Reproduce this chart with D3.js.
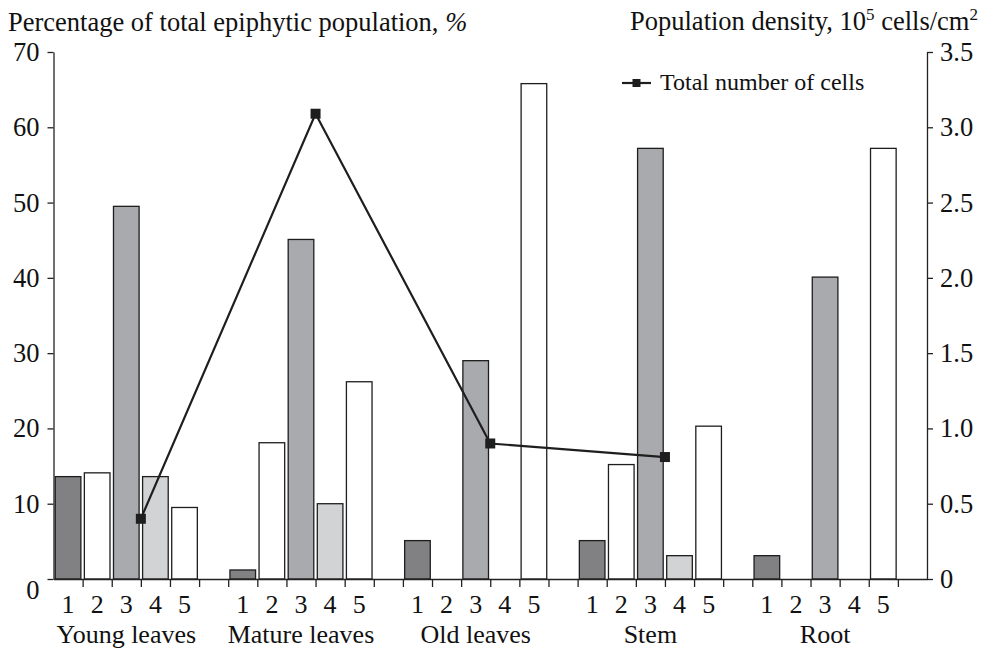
<!DOCTYPE html>
<html>
<head>
<meta charset="utf-8">
<script src="https://cdn.jsdelivr.net/npm/d3@7"></script>
<style>
  body { margin: 0; background: #fff; }
  svg { display: block; font-family: "Liberation Serif", "Times New Roman", serif; }
  .axis path, .axis line { stroke: #222; stroke-width: 1.3; }
  .axis text { font-family: "Liberation Serif", "Times New Roman", serif; font-size: 26.5px; fill: #111; }
  .lbl { font-size: 26.5px; fill: #111; }
  .xlbl { font-size: 26px; fill: #111; }
</style>
</head>
<body>
<div id="chart"></div>
<script>
const groups = ["Young leaves", "Mature leaves", "Old leaves", "Stem", "Root"];
const barLabels = ["1", "2", "3", "4", "5"];
// percentage of total epiphytic population, one array per bar number
const series1 = [13.6, 1.2, 5.1, 5.1, 3.1];
const series2 = [14.1, 18.1, 0, 15.2, 0];
const series3 = [49.5, 45.1, 29.0, 57.2, 40.1];
const series4 = [13.6, 10.0, 0, 3.1, 0];
const series5 = [9.5, 26.2, 65.8, 20.3, 57.2];
// population density, 10^5 cells/cm2 (no value for root)
const totalCells = [0.40, 3.09, 0.90, 0.81, null];
const leftTicks = [0, 10, 20, 30, 40, 50, 60, 70];
const rightTicks = [0, 0.5, 1.0, 1.5, 2.0, 2.5, 3.0, 3.5];

const allSeries = [series1, series2, series3, series4, series5];
const fills = ["#818184", "#ffffff", "#a9aaad", "#d2d3d5", "#ffffff"];

const width = 981;
const height = 649;
const x0 = 53.5, x1 = 927;
const yTop = 52, yBottom = 579;

const svg = d3.select("#chart")
  .append("svg")
  .attr("width", width)
  .attr("height", height)
  .style("background-color", "#fff");

// 6 slots per group: 5 bars + an empty gap slot
const slots = groups.flatMap((g) => [...barLabels.map((b) => g + "|" + b), g + "|gap"]);

const xBand = d3.scaleBand()
  .domain(slots)
  .range([x0, x1])
  .paddingInner(0.12)
  .paddingOuter(0.06);

const xSlot = d3.scaleLinear()
  .domain([0, slots.length])
  .range([x0, x1]);

const yLeft = d3.scaleLinear().domain([0, 70]).range([yBottom, yTop]);
const yRight = d3.scaleLinear().domain([0, 3.5]).range([yBottom, yTop]);

const barData = [];
groups.forEach((g, gi) => {
  allSeries.forEach((s, si) => {
    if (s[gi] > 0) barData.push({ key: g + "|" + barLabels[si], value: s[gi], fill: fills[si] });
  });
});

svg.append("g")
  .selectAll("rect")
  .data(barData)
  .enter()
  .append("rect")
  .attr("x", (d) => xBand(d.key))
  .attr("y", (d) => yLeft(d.value))
  .attr("width", xBand.bandwidth())
  .attr("height", (d) => yBottom - yLeft(d.value))
  .attr("fill", (d) => d.fill)
  .attr("stroke", "#1e1e1e")
  .attr("stroke-width", 1.3);

// x axis: baseline with ticks at slot boundaries
svg.append("g")
  .attr("class", "axis")
  .attr("transform", `translate(0, ${yBottom})`)
  .call(d3.axisBottom(xSlot)
    .tickValues(d3.range(1, slots.length))
    .tickSize(8)
    .tickSizeOuter(0)
    .tickFormat(""));

// bar number labels
svg.append("g")
  .selectAll("text")
  .data(slots.filter((s) => !s.endsWith("|gap")))
  .enter()
  .append("text")
  .attr("class", "xlbl")
  .attr("x", (d) => xBand(d) + xBand.bandwidth() / 2)
  .attr("y", 613)
  .attr("text-anchor", "middle")
  .text((d) => d.split("|")[1]);

// group labels
svg.append("g")
  .selectAll("text")
  .data(groups)
  .enter()
  .append("text")
  .attr("class", "xlbl")
  .attr("x", (d, i) => xSlot(i * 6 + 2.5))
  .attr("y", 643)
  .attr("text-anchor", "middle")
  .text((d) => d);

// left axis
const leftAxis = svg.append("g")
  .attr("class", "axis")
  .attr("transform", `translate(${x0}, 0)`)
  .call(d3.axisLeft(yLeft).tickValues(leftTicks).tickSize(6).tickSizeOuter(0).tickPadding(8));
leftAxis.selectAll(".tick")
  .filter((d) => d === 0)
  .select("text")
  .attr("dy", "0.75em");

// right axis
svg.append("g")
  .attr("class", "axis")
  .attr("transform", `translate(${x1}, 0)`)
  .call(d3.axisRight(yRight)
    .tickValues(rightTicks)
    .tickSize(6)
    .tickSizeOuter(0)
    .tickPadding(7)
    .tickFormat((d) => (d === 0 ? "0" : d3.format(".1f")(d))));

// total number of cells line
const linePts = totalCells
  .map((v, i) => ({ x: xSlot(i * 6 + 3), v: v }))
  .filter((d) => d.v !== null);

svg.append("path")
  .datum(linePts)
  .attr("fill", "none")
  .attr("stroke", "#1e1e1e")
  .attr("stroke-width", 2.2)
  .attr("d", d3.line().x((d) => d.x).y((d) => yRight(d.v)));

svg.append("g")
  .selectAll("rect")
  .data(linePts)
  .enter()
  .append("rect")
  .attr("x", (d) => d.x - 5)
  .attr("y", (d) => yRight(d.v) - 5)
  .attr("width", 10)
  .attr("height", 10)
  .attr("fill", "#1e1e1e");

// legend
const legend = svg.append("g").attr("transform", "translate(622, 83)");
legend.append("line")
  .attr("x1", 0).attr("x2", 29)
  .attr("stroke", "#1e1e1e")
  .attr("stroke-width", 2.2);
legend.append("rect")
  .attr("x", 10.5).attr("y", -4)
  .attr("width", 8).attr("height", 8)
  .attr("fill", "#1e1e1e");
legend.append("text")
  .attr("x", 38)
  .attr("y", 7)
  .style("font-size", "24px")
  .style("fill", "#111")
  .text("Total number of cells");

// axis titles
const leftTitle = svg.append("text")
  .attr("class", "lbl")
  .attr("x", 8)
  .attr("y", 31)
  .text("Percentage of total epiphytic population, ");
leftTitle.append("tspan").style("font-style", "italic").text("%");

const rightTitle = svg.append("text")
  .attr("class", "lbl")
  .attr("x", 978)
  .attr("y", 30)
  .attr("text-anchor", "end")
  .text("Population density, 10");
rightTitle.append("tspan").attr("dy", -10).style("font-size", "17px").text("5");
rightTitle.append("tspan").attr("dy", 10).text(" cells/cm");
rightTitle.append("tspan").attr("dy", -10).style("font-size", "17px").text("2");
</script>
</body>
</html>
